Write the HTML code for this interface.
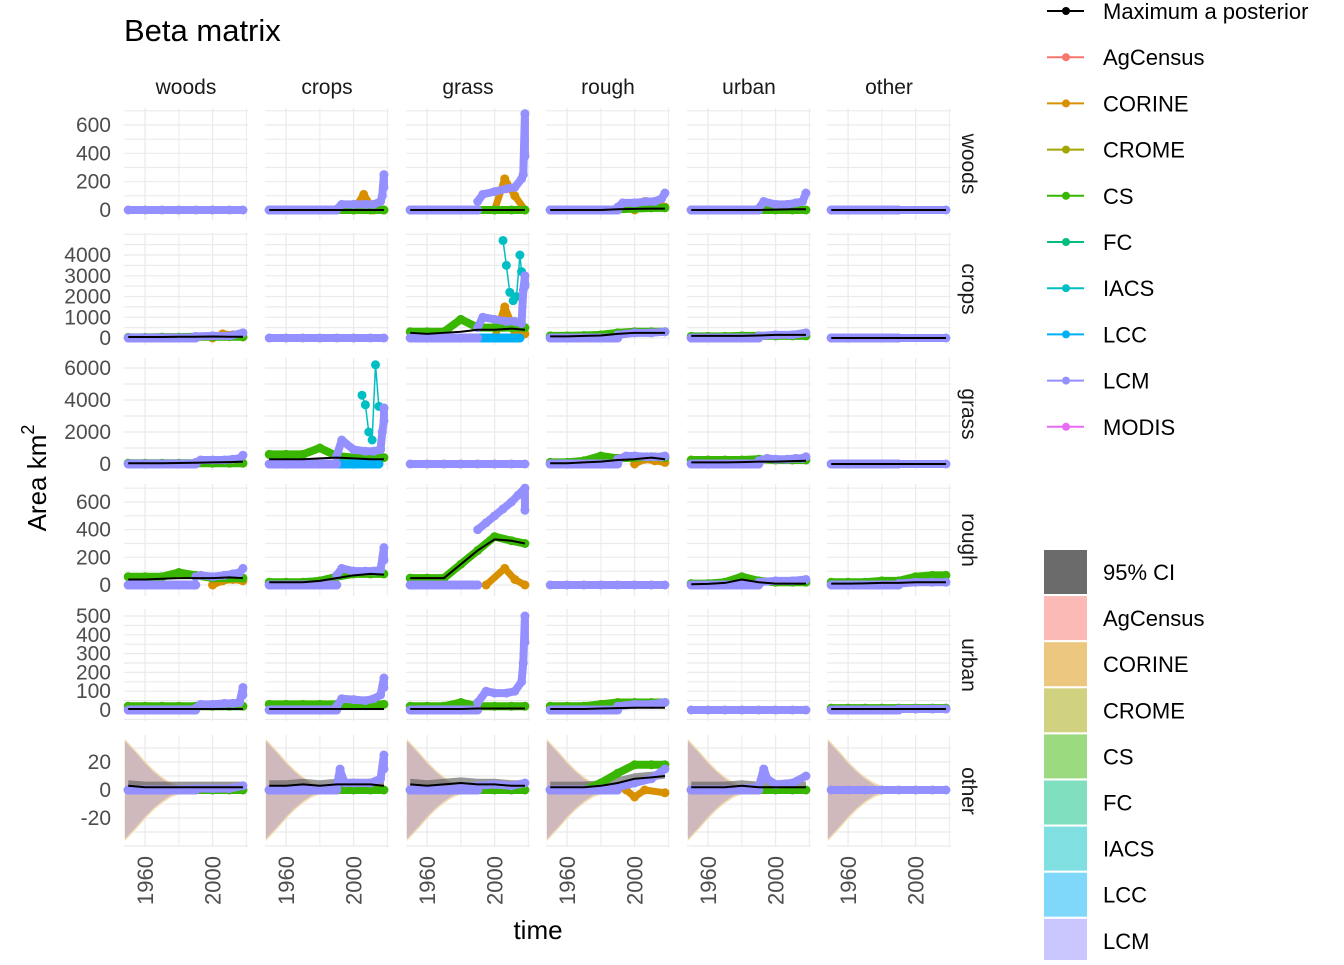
<!DOCTYPE html>
<html><head><meta charset="utf-8"><style>
body{margin:0;background:#fff;}
svg text{font-family:"Liberation Sans",Arial,sans-serif;}
</style></head><body>
<svg id="chart" width="1344" height="960" xmlns="http://www.w3.org/2000/svg">
<text x="124" y="41" font-size="31" fill="#000">Beta matrix</text>
<text x="538" y="939" font-size="26" text-anchor="middle" fill="#000">time</text>
<text transform="translate(46,478) rotate(-90)" font-size="26" text-anchor="middle" fill="#000">Area km<tspan font-size="18" dy="-12">2</tspan></text>
<g id="panels"></g>
<g id="legend"></g>
</svg>
<script>
const classes = ["woods","crops","grass","rough","urban","other"];
const years = [1950,1960,1970,1980,1990,2000,2010,2018];
const rowTicks = [[0,200,400,600],[0,1000,2000,3000,4000],[0,2000,4000,6000],[0,200,400,600],[0,100,200,300,400,500],[-20,0,20]];
// Maximum a posteriori per panel [row][col] at `years`
const mapValues = [
 [[0,0,0,0,0,0,0,0],[0,0,0,0,0,0,0,0],[0,0,0,0,0,0,0,0],[0,0,0,0,5,8,10,10],[0,0,0,0,0,3,5,5],[0,0,0,0,0,0,0,0]],
 [[50,50,50,60,60,70,60,60],[0,0,0,0,0,0,0,0],[250,200,250,300,400,400,450,400],[80,80,100,120,200,250,250,250],[100,100,100,100,120,150,150,150],[0,0,0,0,0,0,0,0]],
 [[50,50,50,60,80,100,120,150],[300,300,300,350,400,350,300,300],[0,0,0,0,0,0,0,0],[50,50,100,150,250,300,400,300],[100,100,100,120,150,150,180,200],[0,0,0,0,0,0,0,0]],
 [[40,40,45,50,50,50,55,50],[20,20,20,30,50,70,80,75],[50,50,50,150,250,330,320,300],[0,0,0,0,0,0,0,0],[5,8,15,40,20,10,10,10],[10,10,12,15,15,20,20,20]],
 [[5,5,5,5,5,5,5,5],[5,5,5,5,5,5,5,5],[5,5,5,5,8,8,8,8],[5,5,5,8,10,12,12,12],[0,0,0,0,0,0,0,0],[5,5,5,5,5,5,5,5]],
 [[3,2,2,2,2,2,2,2],[3,3,4,3,4,4,4,3],[4,3,4,5,4,4,3,3],[2,2,2,3,5,8,9,10],[2,2,2,3,2,2,2,2],[0,0,0,0,0,0,0,0]]
];
// CS per panel at `years` (null = no data)
const csValues = [
 [null,[0,0,0,0,0,0,0,0],[0,0,0,0,0,0,0,0],[0,0,0,0,5,10,15,15],[0,0,0,0,0,0,0,0],null],
 [[30,30,40,40,60,60,60,60],null,[300,300,300,900,500,500,500,500],[100,100,120,150,250,300,300,300],[80,80,80,100,100,100,100,100],null],
 [[50,50,50,50,50,50,50,50],[600,600,600,1000,500,400,400,400],null,[100,100,200,500,350,400,450,400],[250,250,250,250,300,250,250,250],null],
 [[60,60,60,90,70,50,50,50],[20,20,20,30,60,80,80,80],[50,50,50,150,250,350,320,300],null,[10,10,20,60,30,20,20,20],[20,20,20,30,30,60,70,70]],
 [[20,20,20,20,20,20,20,20],[30,30,30,30,30,30,30,30],[20,20,20,40,20,20,20,20],[20,20,20,30,40,40,40,40],null,[10,10,10,10,10,10,10,10]],
 [[0,0,0,0,0,0,0,0],[0,0,0,0,0,0,0,0],[0,0,0,0,0,0,0,0],[0,0,0,5,12,18,18,18],[0,0,0,0,0,0,0,0],null]
];
// LCM points per panel as [year, value]
const lcmPoints = [
 [[[1950,0],[1960,0],[1970,0],[1980,0],[1990,0],[2000,0],[2010,0],[2018,0]],[[1990,5],[1993,40],[2000,40],[2007,40],[2012,40],[2016,60],[2018,250],[2018,160],[2017,100]],[[1990,60],[1993,110],[2000,130],[2007,150],[2012,160],[2016,220],[2018,680],[2018,380],[2017,250]],[[1990,20],[1993,50],[2000,50],[2007,60],[2012,60],[2016,80],[2018,120]],[[1990,10],[1993,60],[2000,40],[2007,40],[2012,50],[2016,60],[2018,120]],[[1950,0],[2018,0]]],
 [[[1990,80],[2000,100],[2010,100],[2018,250]],[[1950,0],[1960,0],[1970,0],[1980,0],[1990,0],[2000,0],[2010,0],[2018,0]],[[1990,500],[1993,1000],[2000,900],[2007,800],[2012,800],[2016,700],[2018,3000],[2018,2500],[2017,2300]],[[1990,150],[2000,250],[2010,250],[2018,300]],[[1990,100],[2000,150],[2010,150],[2018,250]],[[1950,0],[2018,0]]],
 [[[1990,100],[1993,250],[2000,250],[2007,250],[2012,300],[2016,350],[2018,550]],[[1990,500],[1993,1500],[2000,900],[2007,800],[2012,800],[2016,900],[2018,2700],[2018,3500],[2017,2000]],[[1950,0],[1960,0],[1970,0],[1980,0],[1990,0],[2000,0],[2010,0],[2018,0]],[[1990,300],[1995,500],[2000,500],[2007,450],[2012,450],[2016,450],[2018,500]],[[1990,200],[1995,350],[2000,300],[2007,300],[2012,350],[2016,350],[2018,450]],[[1950,0],[2018,0]]],
 [[[1990,60],[1993,70],[2000,60],[2007,70],[2012,80],[2016,90],[2018,120]],[[1990,70],[1993,120],[2000,100],[2007,100],[2012,100],[2016,110],[2018,270],[2018,180]],[[1990,400],[1995,450],[2000,500],[2005,550],[2010,600],[2014,650],[2018,700],[2018,540]],[[1950,0],[1960,0],[1970,0],[1980,0],[1990,0],[2000,0],[2010,0],[2018,0]],[[1990,20],[2000,30],[2010,30],[2018,40]],[[1990,10],[2000,20],[2010,20],[2018,20]]],
 [[[1990,10],[1993,30],[2000,30],[2007,35],[2012,35],[2016,40],[2018,120],[2018,80]],[[1990,20],[1993,60],[2000,55],[2007,50],[2012,60],[2016,80],[2018,170],[2018,120]],[[1990,40],[1995,100],[2000,90],[2007,90],[2012,100],[2016,150],[2018,500],[2018,360],[2017,250]],[[1990,20],[2000,30],[2010,30],[2018,40]],[[1950,0],[1960,0],[1970,0],[1980,0],[1990,0],[2000,0],[2010,0],[2018,0]],[[1990,5],[2000,5],[2010,5],[2018,5]]],
 [[[1950,0],[1970,0],[1990,1],[2000,1],[2010,1],[2018,3]],[[1950,0],[1970,0],[1990,2],[1992,15],[1993,10],[1995,5],[2000,5],[2010,5],[2016,8],[2018,25],[2018,15]],[[1950,0],[1970,0],[1990,3],[2000,4],[2010,3],[2018,5]],[[1950,0],[1970,0],[1990,2],[2000,5],[2010,8],[2018,15]],[[1950,0],[1970,0],[1990,2],[1993,15],[1995,8],[2000,4],[2010,5],[2018,10]],[[1950,0],[1960,0],[1970,0],[1980,0],[1990,0],[2000,0],[2010,0],[2018,0]]]
];
// CORINE humps [row, col, [year,value] ...]
const corinePoints = [
 [0,1,[[2000,0],[2006,110],[2012,0],[2018,0]]],
 [0,2,[[2000,0],[2006,220],[2012,100],[2018,0]]],
 [0,3,[[2000,0],[2006,60],[2012,60],[2018,20]]],
 [1,0,[[2000,0],[2006,200],[2012,150],[2018,50]]],
 [1,2,[[2000,0],[2006,1500],[2012,300],[2018,200]]],
 [2,3,[[2000,0],[2006,300],[2012,200],[2018,100]]],
 [3,2,[[1995,0],[2006,120],[2012,40],[2018,0]]],
 [3,0,[[2000,0],[2006,30],[2012,40],[2018,30]]],
 [5,3,[[1995,0],[2000,-5],[2006,0],[2018,-2]]]
];
// IACS points
const iacsPoints = [
 [1,2,[[2005,4700],[2007,3500],[2009,2200],[2011,1800],[2013,2000],[2015,4000],[2016,3200],[2018,2600]]],
 [2,1,[[2005,4300],[2007,3700],[2009,2000],[2011,1500],[2013,6200],[2015,3600],[2018,3500]]]
];
// LCC points
const lccPoints = [
 [1,2,[[1990,0],[2000,0],[2010,0],[2015,0]]],
 [2,1,[[1990,0],[2000,0],[2010,0],[2015,0]]]
];
// 95% CI cone (other row) half-width at years
const ciYears = [1948,1955,1960,1965,1970,1975,1980,1985];
const ciHalf = [35,26,19,13,8,4,1.5,0];
const lineLegend = ["Maximum a posterior","AgCensus","CORINE","CROME","CS","FC","IACS","LCC","LCM","MODIS"];
const fillLegend = ["95% CI","AgCensus","CORINE","CROME","CS","FC","IACS","LCC","LCM"];

const COL = {"Maximum a posterior":"#000000","AgCensus":"#F8766D","CORINE":"#D89000","CROME":"#A3A500","CS":"#39B600","FC":"#00BF7D","IACS":"#00BFC4","LCC":"#00B0F6","LCM":"#9590FF","MODIS":"#E76BF3","95% CI":"#6b6b6b"};
const NS="http://www.w3.org/2000/svg";
const colLeft=[124,265,406,546,687,827], W=124;
const rowTop=[108,233,358,484,609,735], H=112;
const rowZero=[210,338,464,585,710,790];
const rowK=[85/600,83/4000,96/6000,83/600,94/500,28/20];
const X0=1947.5, X1=2021;
function el(tag,attrs,parent){const e=document.createElementNS(NS,tag);for(const k in attrs)e.setAttribute(k,attrs[k]);parent.appendChild(e);return e;}
function xs(c,yr){return colLeft[c]+(yr-X0)/(X1-X0)*W;}
function ys(r,v){return rowZero[r]-v*rowK[r];}
const P=document.getElementById('panels');

for(let r=0;r<6;r++){
 rowTicks[r].forEach(t=>{
  const tx=el('text',{x:111,y:ys(r,t)+7,'font-size':21,'text-anchor':'end',fill:'#4D4D4D'},P);
  
  
  tx.textContent=t;
 });
 const st=el('text',{transform:`translate(962,${rowTop[r]+H/2}) rotate(90)`,'font-size':21,'text-anchor':'middle',fill:'#1A1A1A'},P);
 
 
 st.textContent=classes[r];
 for(let c=0;c<6;c++){
  const g=el('g',{},P);
  
  
  [1940,1960,1980,2000,2020].forEach(yr=>{const x=xs(c,yr);if(x>=colLeft[c]&&x<=colLeft[c]+W)el('line',{x1:x,x2:x,y1:rowTop[r],y2:rowTop[r]+H,stroke:'#EBEBEB','stroke-width':yr%40==0?1.3:1},g);});
  const tk=rowTicks[r], step=tk[1]-tk[0];
  for(let v=tk[0]-step*2;v<=tk[tk.length-1]+step*2;v+=step/2){const y=ys(r,v);if(y>=rowTop[r]&&y<=rowTop[r]+H)el('line',{x1:colLeft[c],x2:colLeft[c]+W,y1:y,y2:y,stroke:'#EBEBEB','stroke-width':1.2},g);}
  if(r==5){
   let up=ciYears.map((y,i)=>xs(c,y)+','+ys(r,ciHalf[i]+1.5));let dn=ciYears.map((y,i)=>xs(c,y)+','+ys(r,-ciHalf[i]-1.5)).reverse();
   el('polygon',{points:up.concat(dn).join(' '),fill:'#F0D49A','fill-opacity':0.8},g);
   up=ciYears.map((y,i)=>xs(c,y)+','+ys(r,ciHalf[i]));dn=ciYears.map((y,i)=>xs(c,y)+','+ys(r,-ciHalf[i])).reverse();
   el('polygon',{points:up.concat(dn).join(' '),fill:'#cfb9bd','fill-opacity':1},g);
   if(c!=5){const mv=mapValues[r][c];
    const u=years.map((y,i)=>xs(c,y)+','+ys(r,mv[i]+4));const d=years.map((y,i)=>xs(c,y)+','+ys(r,mv[i]-2)).reverse();
    el('polygon',{points:u.concat(d).join(' '),fill:'#555','fill-opacity':0.6},g);}
  }
  const drawSeries=(pts,color,name,lw)=>{
   const s=el('g',{},g);
   
   
   if(lw>0) el('polyline',{points:pts.map(p=>xs(c,p[0])+','+ys(r,p[1])).join(' '),fill:'none',stroke:color,'stroke-width':lw,'stroke-linejoin':'round','stroke-linecap':'round'},s);
   pts.forEach(p=>{el('circle',{cx:xs(c,p[0]),cy:ys(r,p[1]),r:4.5,fill:color},s);});
  };
  corinePoints.filter(d=>d[0]==r&&d[1]==c).forEach(d=>drawSeries(d[2],COL.CORINE,'corine',7));
  if(csValues[r][c]) drawSeries(years.map((y,i)=>[y,csValues[r][c][i]]),COL.CS,'cs',8);
  lccPoints.filter(d=>d[0]==r&&d[1]==c).forEach(d=>drawSeries(d[2],COL.LCC,'lcc',9));
  iacsPoints.filter(d=>d[0]==r&&d[1]==c).forEach(d=>drawSeries(d[2],COL.IACS,'iacs',1.5));
  const lp=lcmPoints[r][c].slice().sort((a,b)=>a[0]-b[0]);
  if(r!=c) drawSeries([[1950,0],[1990,0]],COL.LCM,'lcm-base',9);
  drawSeries(lp,COL.LCM,'lcm',8);
  if(r!=c){const m=el('polyline',{points:years.map((y,i)=>xs(c,y)+','+ys(r,mapValues[r][c][i])).join(' '),fill:'none',stroke:'#000','stroke-width':2},g);
   
   }
  if(r==0){const t=el('text',{x:colLeft[c]+W/2,y:94,'font-size':21,'text-anchor':'middle',fill:'#1A1A1A'},P);
   
   
   t.textContent=classes[c];}
  if(r==5){[1960,2000].forEach(yr=>{const t=el('text',{transform:`translate(${xs(c,yr)+8},856) rotate(-90)`,'font-size':22,'text-anchor':'end',fill:'#4D4D4D'},P);
   
   
   t.textContent=yr;});}
 }
}
const L=document.getElementById('legend');
lineLegend.forEach((n,i)=>{const y=11+i*46.2;const g=el('g',{},L);
 
 
 el('line',{x1:1047,x2:1084,y1:y,y2:y,stroke:COL[n],'stroke-width':2},g);
 el('circle',{cx:1066,cy:y,r:4,fill:COL[n]},g);
 const t=el('text',{x:1103,y:y+8,'font-size':22,fill:'#000'},g);t.textContent=n;});
fillLegend.forEach((n,i)=>{const y=572+i*46.1;const g=el('g',{},L);
 
 
 el('rect',{x:1044,y:y-22,width:43,height:44,fill:COL[n],'fill-opacity':n=='95% CI'?1:0.5},g);
 const t=el('text',{x:1103,y:y+8,'font-size':22,fill:'#000'},g);t.textContent=n;});
</script>
</body></html>
